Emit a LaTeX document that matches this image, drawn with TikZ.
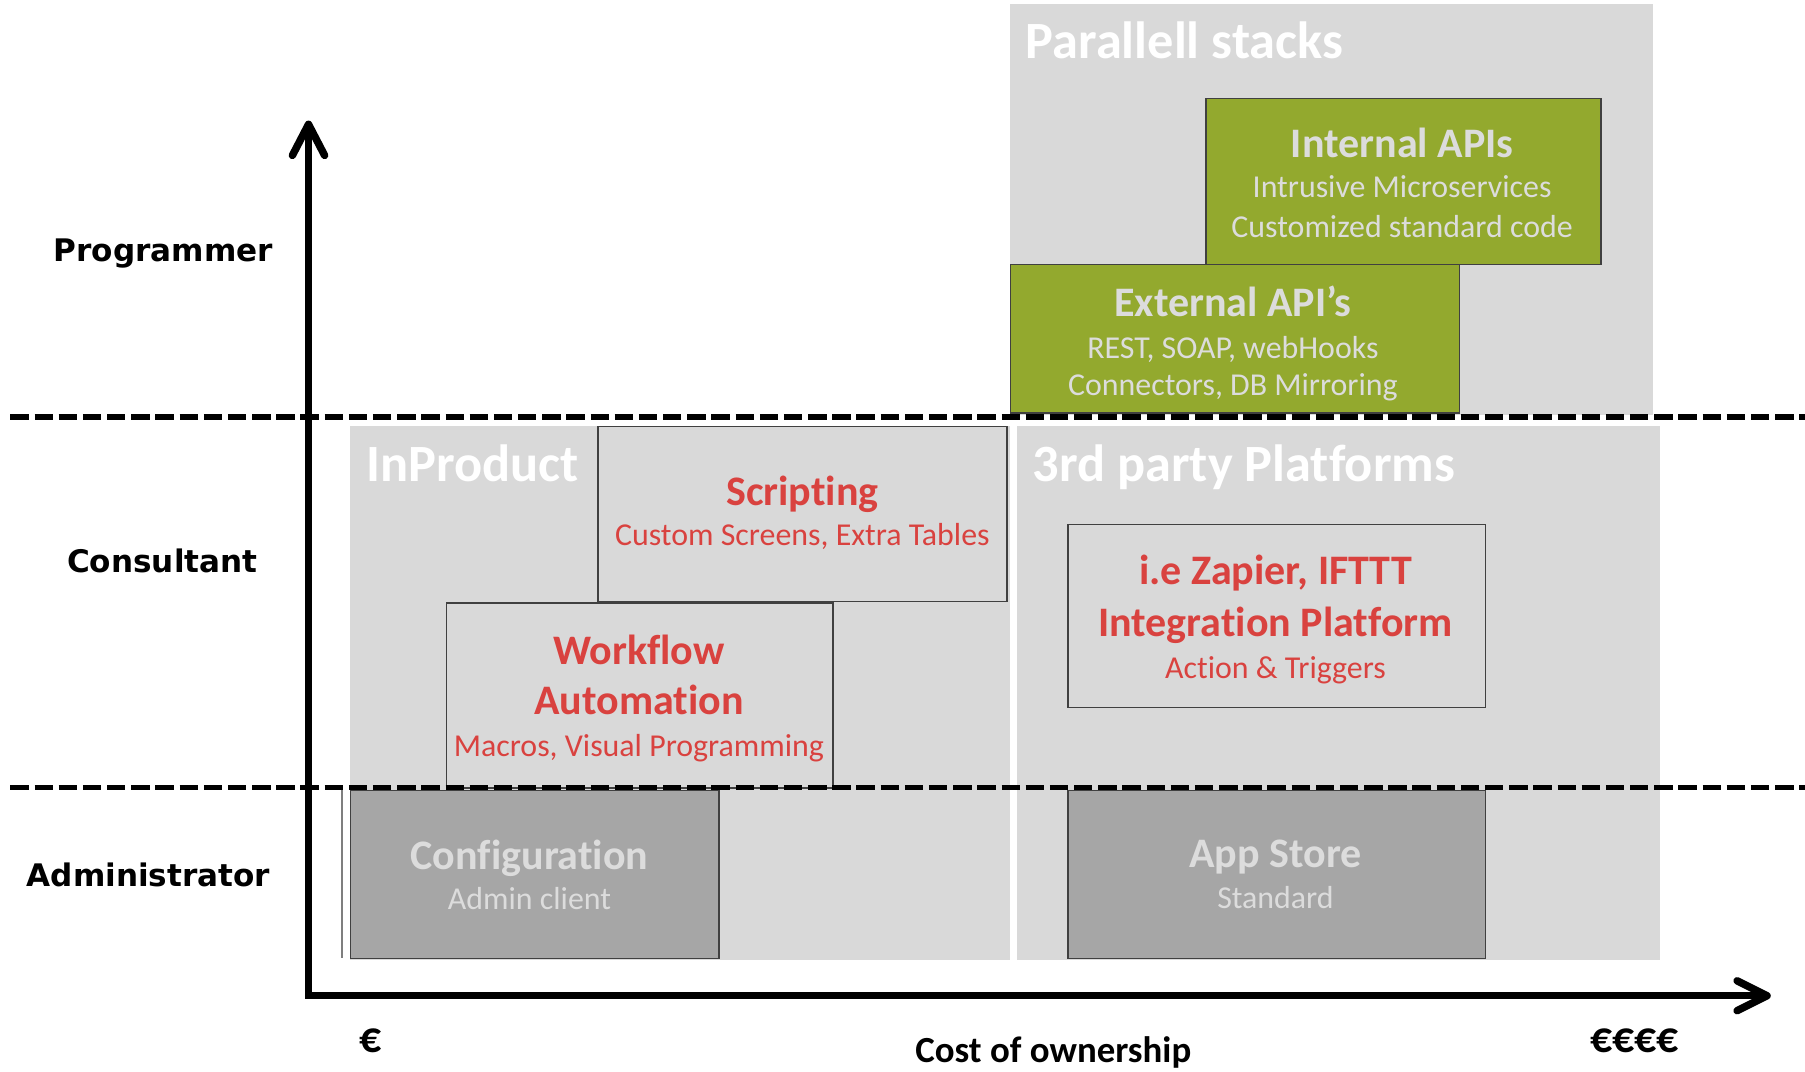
\documentclass[tikz,border=0pt]{standalone}
\usepackage{fontspec}
\setmainfont{Carlito}[Ligatures={NoCommon,NoRequired,NoContextual}]
\newfontfamily\rolefont{DejaVu Sans}
\usetikzlibrary{calc}

\definecolor{panel}{HTML}{D9D9D9}
\definecolor{slate}{HTML}{A6A6A6}
\definecolor{olive}{RGB}{147,169,46}
\definecolor{brick}{RGB}{217,66,63}
\definecolor{edge}{HTML}{404040}
\definecolor{pale}{HTML}{DCDCDC}
\definecolor{stub}{HTML}{7F7F7F}

\tikzset{
  region/.style={rectangle, fill=panel, inner sep=0pt, anchor=north west},
  card/.style={rectangle, draw=edge, line width=1.3pt, inner sep=0pt, anchor=north west},
  title/.style={font=\fontsize{45.5}{50}\selectfont\bfseries, text=white, anchor=base west, inner sep=0pt},
  head/.style={font=\fontsize{36.5}{40}\selectfont\bfseries, anchor=base, inner sep=0pt},
  sub/.style={font=\fontsize{27.7}{30}\selectfont, anchor=base, inner sep=0pt},
  role/.style={font=\rolefont\bfseries\fontsize{27}{30}\selectfont, anchor=base, inner sep=0pt},
  cost/.style={font=\fontsize{32}{36}\selectfont\bfseries, anchor=base, inner sep=0pt},
  euro/.style={font=\fontsize{38}{40}\selectfont\bfseries, anchor=base, inner sep=0pt},
  axis/.style={line width=6.5pt, line cap=round, line join=round},
  divider/.style={line width=5pt, dash pattern=on 16pt off 5pt},
}

\begin{document}
\begin{tikzpicture}[x=1pt, y=-1pt]
\useasboundingbox (0,0) rectangle (1568,931);

% grey background panels
\node[region, minimum width=559pt, minimum height=357pt] (stacks) at (877,3) {};
\node[region, minimum width=573pt, minimum height=464pt] (inprod) at (304,370) {};
\node[region, minimum width=559pt, minimum height=464pt] (third) at (883,370) {};

% integration options
\node[card, fill=olive, minimum width=343pt, minimum height=144pt] (internal) at (1047,85) {};
\node[card, fill=olive, minimum width=390pt, minimum height=129pt] (external) at (877,229) {};
\node[card, fill=panel, minimum width=355pt, minimum height=152pt] (scripting) at (519,370) {};
\node[card, fill=panel, minimum width=336pt, minimum height=161pt] (workflow) at (387,523) {};
\node[card, fill=panel, minimum width=363pt, minimum height=159pt] (zapier) at (927,455) {};
\node[card, fill=slate, minimum width=320pt, minimum height=146pt] (config) at (304,686) {};
\node[card, fill=slate, minimum width=363pt, minimum height=146pt] (appstore) at (927,686) {};

% left stub beside the configuration card
\coordinate (stubtop) at (297,686);
\coordinate (stubbot) at (297,832);
\draw[stub, line width=2pt] (stubtop) -- (stubbot);

% panel titles
\node[title] (tstacks) at (891,51) {Parallell stacks};
\node[title] (tinprod) at (318,418) {InProduct};
\node[title] (tthird) at (897,418) {3rd party Platforms};

% card texts
\node[head, text=pale] (tint) at (1218,137) {Internal APIs};
\node[sub, text=pale] (tinta) at (1218,172) {Intrusive Microservices};
\node[sub, text=pale] (tintb) at (1218,206) {Customized standard code};

\node[head, text=pale] (text) at (1071,275) {External API’s};
\node[sub, text=pale] (texta) at (1071,311) {REST, SOAP, webHooks};
\node[sub, text=pale] (textb) at (1071,344) {Connectors, DB Mirroring};

\node[head, text=brick] (tscr) at (697,439) {Scripting};
\node[sub, text=brick] (tscra) at (697,474) {Custom Screens, Extra Tables};

\node[head, text=brick] (twfa) at (555,577) {Workflow};
\node[head, text=brick] (twfb) at (555,621) {Automation};
\node[sub, text=brick] (twfc) at (555,657) {Macros, Visual Programming};

\node[head, text=brick] (tzapa) at (1108,508) {i.e Zapier, IFTTT};
\node[head, text=brick] (tzapb) at (1108,553) {Integration Platform};
\node[sub, text=brick] (tzapc) at (1108,589) {Action \& Triggers};

\node[head, text=pale] (tcfg) at (460,755) {Configuration};
\node[sub, text=pale] (tcfga) at (460,790) {Admin client};

\node[head, text=pale] (tapp) at (1108,754) {App Store};
\node[sub, text=pale] (tappa) at (1108,789) {Standard};

% role levels
\coordinate (dAl) at (9,362);
\coordinate (dAr) at (1568,362);
\coordinate (dBl) at (9,684);
\coordinate (dBr) at (1568,684);
\draw[divider] (dAl) -- (dAr);
\draw[divider] (dBl) -- (dBr);

\node[role] (programmer) at (142,227) {Programmer};
\node[role] (consultant) at (141,497) {Consultant};
\node[role] (administrator) at (129,770) {Administrator};

% axes
\coordinate (origin) at (268,865);
\coordinate (ytip) at (268,108);
\coordinate (xtip) at (1535,865);
\draw[axis, line cap=butt, line join=miter] (xtip) -- (origin) -- (ytip);
\draw[axis] ($(ytip)+(-14,27)$) -- (ytip) -- ($(ytip)+(14,27)$);
\draw[axis] ($(xtip)+(-26,-13)$) -- (xtip) -- ($(xtip)+(-26,13)$);

\node[euro] (low) at (322,914) {€};
\node[euro] (high) at (1420,914) {€€€€};
\node[cost] (costlabel) at (915,923) {Cost of ownership};
\end{tikzpicture}
\end{document}
